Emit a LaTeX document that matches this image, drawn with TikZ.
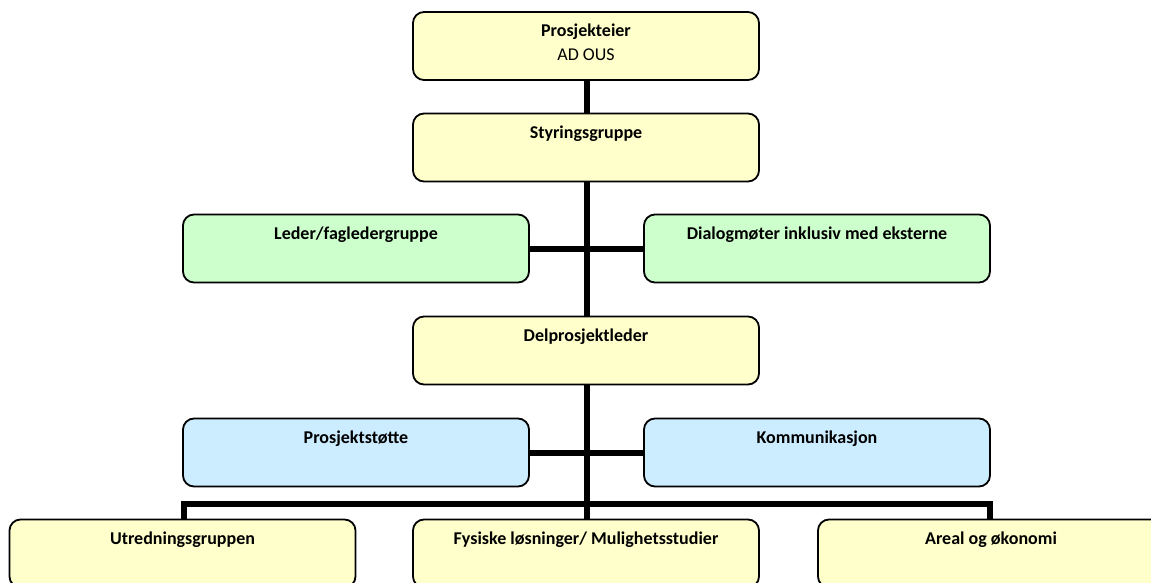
\documentclass[tikz,border=0pt]{standalone}
\usepackage{fontspec}
\setmainfont{Carlito}
\definecolor{boxyellow}{HTML}{FFFFCC}
\definecolor{boxgreen}{HTML}{CCFFCC}
\definecolor{boxblue}{HTML}{CCECFF}
\tikzset{
  x=1pt, y=-1pt,
  orgbox/.style={draw=black, line width=1.8pt, rounded corners=11pt,
    minimum width=346pt, minimum height=68pt, inner sep=0pt, outer sep=0pt},
  yellowbox/.style={orgbox, fill=boxyellow},
  greenbox/.style={orgbox, fill=boxgreen},
  bluebox/.style={orgbox, fill=boxblue},
  title/.style={label={[anchor=base, label distance=0pt, yshift=-25pt,
    font=\fontsize{18}{21}\selectfont\bfseries]north:#1}},
  subtitle/.style={label={[anchor=base, label distance=0pt, yshift=-49pt,
    font=\fontsize{18}{21}\selectfont]north:#1}},
  conn/.style={draw=black, line width=6pt}
}
\begin{document}
\begin{tikzpicture}
  \useasboundingbox (0,0) rectangle (1151,583);
  \clip (0,0) rectangle (1151,583);

  % connectors, drawn first so the boxes sit on top
  \coordinate (spinetop) at (587,80);
  \coordinate (spinebot) at (587,519);
  \coordinate (busL) at (184,504);
  \coordinate (busR) at (990,504);
  \coordinate (dropL) at (184,519);
  \coordinate (dropR) at (990,519);
  \draw[conn] (spinetop) -- (spinebot);
  \draw[conn] (dropL) -- (busL) -- (busR) -- (dropR);
  \coordinate (gL) at (529,248.5);
  \coordinate (gR) at (644,248.5);
  \coordinate (bL) at (529,452.5);
  \coordinate (bR) at (644,452.5);
  \draw[conn] (gL) -- (gR);
  \draw[conn] (bL) -- (bR);

  % boxes
  \node[yellowbox, title=Prosjekteier, subtitle=AD OUS] (eier) at (586,46) {};
  \node[yellowbox, title=Styringsgruppe] (styr) at (586,147.5) {};
  \node[greenbox, title=Leder/fagledergruppe] (leder) at (356,248.5) {};
  \node[greenbox, title=Dialogmøter inklusiv med eksterne] (dialog) at (817,248.5) {};
  \node[yellowbox, title=Delprosjektleder] (delpl) at (586,350.5) {};
  \node[bluebox, title=Prosjektstøtte] (stotte) at (356,452.5) {};
  \node[bluebox, title=Kommunikasjon] (komm) at (817,452.5) {};
  \node[yellowbox, title=Utredningsgruppen] (utred) at (182.5,553.5) {};
  \node[yellowbox, title={Fysiske løsninger/ Mulighetsstudier}] (fys) at (586,553.5) {};
  \node[yellowbox, title=Areal og økonomi] (areal) at (991,553.5) {};
\end{tikzpicture}
\end{document}
